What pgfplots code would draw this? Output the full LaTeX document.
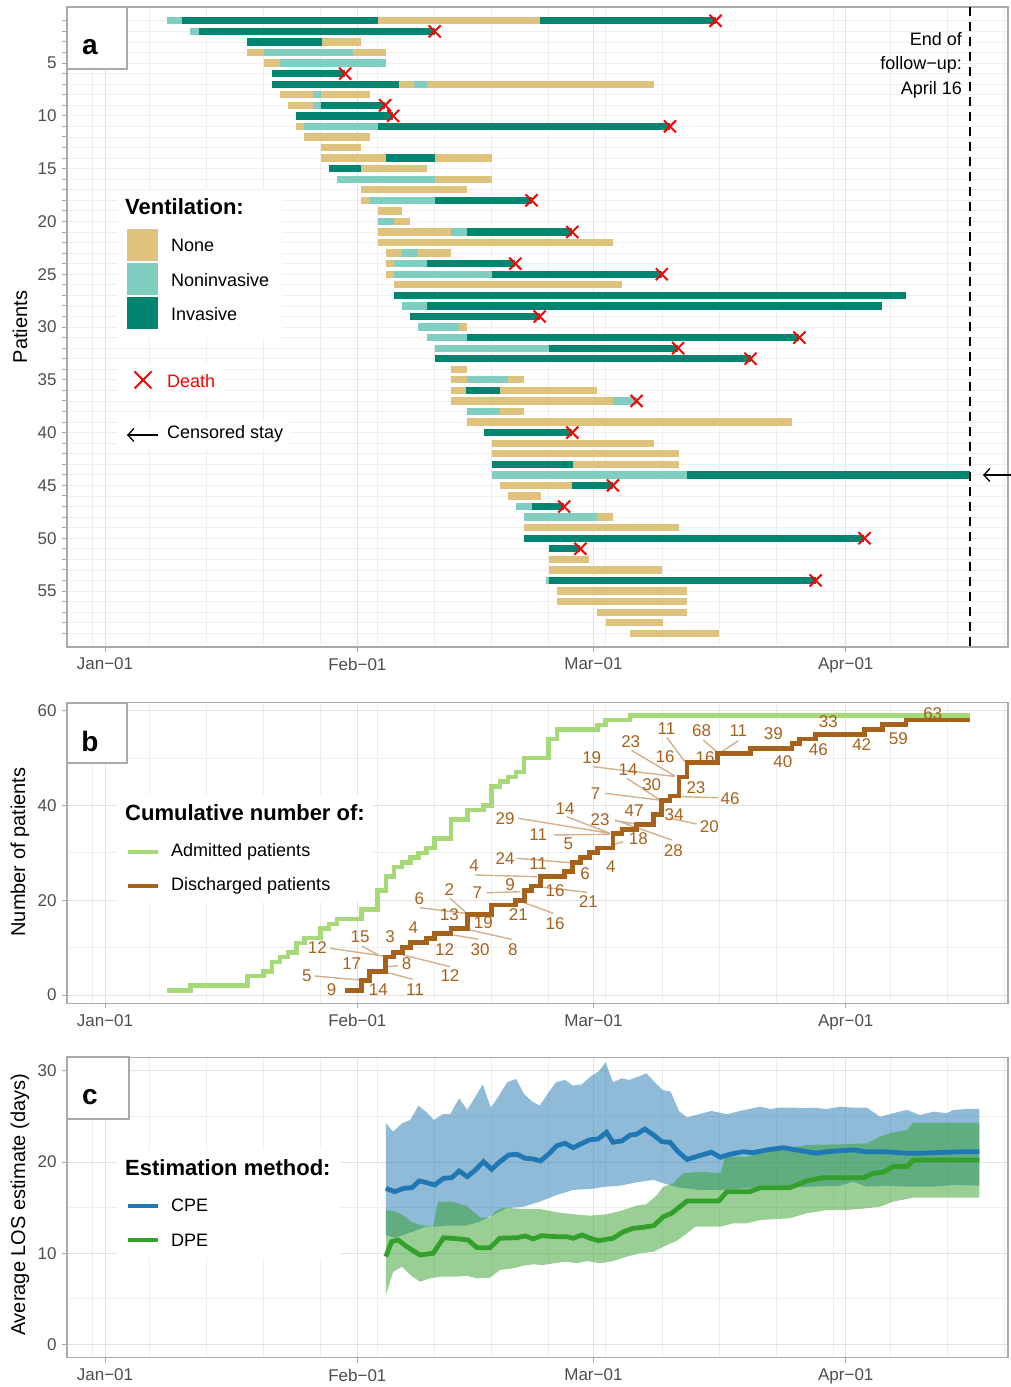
\documentclass[border=0pt]{standalone}
\usepackage{fontspec}
\setmainfont{Liberation Sans}
\setsansfont{Liberation Sans}
\usepackage{pgfplots}
\pgfplotsset{compat=1.18}
\usepackage{pgfplotstable}
\usetikzlibrary{arrows.meta}

\definecolor{tanbar}{HTML}{DFC27D}
\definecolor{ltteal}{HTML}{80CDC1}
\definecolor{dkteal}{HTML}{018571}
\definecolor{brownl}{HTML}{A6611A}
\definecolor{admg}{RGB}{166,217,120}
\definecolor{cpeb}{HTML}{1F78B4}
\definecolor{dpeg}{HTML}{33A02C}
\definecolor{tickc}{RGB}{77,77,77}
\definecolor{borderc}{RGB}{170,170,170}
\definecolor{gridc}{RGB}{226,226,226}
\definecolor{gridm}{RGB}{238,238,238}

\newcommand{\fsz}[1]{\fontsize{#1}{#1}\selectfont}

\pgfplotsset{
  panel/.style={
    scale only axis, width=941pt,
    xmin=-4.67, xmax=110.93,
    axis line style={borderc, line width=1.1pt},
    tick style={borderc, line width=1pt},
    major tick length=5pt, minor tick length=0pt,
    tick align=outside, tick pos=left,
    xtick={0,31,60,91},
    xticklabels={Jan−01,Feb−01,Mar−01,Apr−01},
    minor xtick={-1.5,5.5,12.5,19.5,26.5,33.5,40.5,47.5,54.5,61.5,68.5,75.5,82.5,89.5,96.5,103.5,110.5},
    grid=both,
    major grid style={gridc, line width=1pt},
    minor grid style={gridm, line width=0.8pt},
    ticklabel style={font=\fsz{17}, text=tickc},
    xticklabel style={yshift=-2.5pt},
    yticklabel style={xshift=-2pt},
    unbounded coords=jump,
  },
}

\pgfplotstableread{
x y lab
27.85 1.05 9
33.58 1.05 14
24.78 4.0 5
38.08 1.2 11
30.31 6.69 17
26.08 10.06 12
31.33 12.3 15
35.01 12.3 3
37.06 6.69 8
37.87 14.2 4
38.61 20.36 6
41.71 9.49 12
46.07 9.49 30
42.38 4.0 12
50.09 9.64 8
42.3 22.3 2
42.3 16.88 13
46.47 15.25 19
45.74 21.58 7
49.75 23.2 9
45.33 27.28 4
50.77 16.88 21
55.28 14.98 16
55.28 22.0 16
59.37 19.68 21
49.14 28.84 24
53.23 27.78 11
58.97 25.53 6
62.13 27.07 4
49.14 37.28 29
56.51 39.39 14
53.23 33.76 11
56.92 31.86 5
60.81 37.03 23
65.52 32.91 18
64.99 38.82 47
69.82 30.49 28
69.9 37.97 34
59.79 50.15 19
64.58 53.44 23
68.8 50.32 16
68.98 56.27 11
64.25 47.62 14
67.16 44.41 30
60.26 42.55 7
72.6 43.82 23
76.78 41.5 46
74.24 35.51 20
73.3 55.76 68
73.71 50.15 16
77.8 55.76 11
82.1 55.21 39
83.26 49.22 40
88.86 57.66 33
87.63 51.84 46
92.96 52.74 42
97.46 54.16 59
101.68 59.28 63
}\labtab

\begin{document}
\begin{tikzpicture}
\path[use as bounding box] (0pt,0pt) rectangle (1011pt,1387pt);

%================ Panel a ================
\begin{axis}[panel, at={(67pt,740pt)}, anchor=south west, height=640pt,
  y dir=reverse, ymin=-0.31, ymax=60.3,
  ytick={1,...,59},
  yticklabels={,,,,5,,,,,10,,,,,15,,,,,20,,,,,25,,,,,30,,,,,35,,,,,40,,,,,45,,,,,50,,,,,55,,,,},
  y grid style={gridm, line width=0.8pt},
]
% Tan: no ventilation
\addplot[tanbar, line width=7.3pt] table {
33.5 1
53.4 1
nan nan
26.6 3
31.5 3
nan nan
17.5 4
19.5 4
nan nan
30.5 4
34.5 4
nan nan
19.5 5
21.5 5
nan nan
36.1 7
38.0 7
nan nan
39.6 7
67.4 7
nan nan
21.5 8
25.5 8
nan nan
26.5 8
32.5 8
nan nan
22.5 9
25.5 9
nan nan
23.5 11
24.5 11
nan nan
24.5 12
32.5 12
nan nan
26.5 13
31.5 13
nan nan
26.5 14
34.5 14
nan nan
40.5 14
47.5 14
nan nan
31.5 15
39.5 15
nan nan
40.5 16
47.5 16
nan nan
31.5 17
44.5 17
nan nan
31.5 18
32.5 18
nan nan
33.5 19
36.5 19
nan nan
35.5 20
37.5 20
nan nan
33.5 21
42.5 21
nan nan
33.5 22
62.4 22
nan nan
34.5 23
36.5 23
nan nan
38.5 23
42.5 23
nan nan
34.5 24
35.5 24
nan nan
34.5 25
35.5 25
nan nan
35.5 26
63.5 26
nan nan
43.5 30
44.5 30
nan nan
42.5 34
44.5 34
nan nan
42.5 35
44.5 35
nan nan
49.5 35
51.5 35
nan nan
42.5 36
44.3 36
nan nan
48.5 36
60.5 36
nan nan
42.5 37
62.4 37
nan nan
48.5 38
51.5 38
nan nan
44.5 39
84.4 39
nan nan
47.5 41
67.4 41
nan nan
47.5 42
70.5 42
nan nan
57.5 43
70.5 43
nan nan
48.5 45
57.4 45
nan nan
49.5 46
53.5 46
nan nan
60.5 48
62.4 48
nan nan
51.5 49
70.5 49
nan nan
54.5 52
59.5 52
nan nan
54.5 53
68.4 53
nan nan
55.5 55
71.5 55
nan nan
55.5 56
71.5 56
nan nan
60.5 57
71.5 57
nan nan
61.5 58
68.5 58
nan nan
64.5 59
75.4 59
};
% Light teal: noninvasive
\addplot[ltteal, line width=7.3pt] table {
7.6 1
9.5 1
nan nan
10.5 2
11.5 2
nan nan
19.5 4
30.5 4
nan nan
21.5 5
34.5 5
nan nan
38.0 7
39.6 7
nan nan
25.5 8
26.5 8
nan nan
25.5 9
26.5 9
nan nan
24.5 11
33.5 11
nan nan
28.5 16
40.5 16
nan nan
32.5 18
40.5 18
nan nan
33.5 20
35.5 20
nan nan
42.5 21
44.5 21
nan nan
36.5 23
38.5 23
nan nan
35.5 24
39.5 24
nan nan
35.5 25
47.5 25
nan nan
36.5 28
39.5 28
nan nan
38.5 30
43.5 30
nan nan
39.5 31
44.5 31
nan nan
40.5 32
54.5 32
nan nan
44.5 35
49.5 35
nan nan
62.4 37
65.3 37
nan nan
44.5 38
48.5 38
nan nan
47.5 44
71.5 44
nan nan
50.5 47
52.5 47
nan nan
51.5 48
60.5 48
nan nan
54.2 54
54.5 54
};
% Dark teal: invasive
\addplot[dkteal, line width=7.3pt] table {
9.5 1
33.5 1
nan nan
53.4 1
75.0 1
nan nan
11.5 2
40.5 2
nan nan
17.5 3
26.6 3
nan nan
20.5 6
29.5 6
nan nan
20.5 7
36.1 7
nan nan
26.5 9
34.4 9
nan nan
23.5 10
35.4 10
nan nan
33.5 11
69.4 11
nan nan
34.5 14
40.5 14
nan nan
27.5 15
31.5 15
nan nan
40.5 18
52.4 18
nan nan
44.5 21
57.4 21
nan nan
39.5 24
50.4 24
nan nan
47.5 25
68.4 25
nan nan
35.5 27
98.4 27
nan nan
39.5 28
95.5 28
nan nan
37.5 29
53.4 29
nan nan
44.5 31
85.3 31
nan nan
54.5 32
70.4 32
nan nan
40.5 33
79.3 33
nan nan
44.3 36
48.5 36
nan nan
46.5 40
57.4 40
nan nan
47.5 43
57.5 43
nan nan
71.5 44
106.3 44
nan nan
57.4 45
62.4 45
nan nan
52.5 47
56.4 47
nan nan
51.5 50
93.3 50
nan nan
54.5 51
58.4 51
nan nan
54.5 54
87.3 54
};
% Deaths
\addplot[only marks, mark=x, mark size=8.5pt, red, line width=2pt] coordinates {
(75.0,1) (40.5,2) (29.5,6) (34.4,9) (35.4,10) (69.4,11) (52.4,18) (57.4,21)
(50.4,24) (68.4,25) (53.4,29) (85.3,31) (70.4,32) (79.3,33) (65.3,37) (57.4,40)
(62.4,45) (56.4,47) (93.3,50) (58.4,51) (87.3,54)};
% End of follow-up
\addplot[black, line width=2pt, dash pattern=on 9pt off 6pt] coordinates {(106.3,-0.31) (106.3,60.3)};
\end{axis}

%================ Panel b ================
\begin{axis}[panel, at={(67pt,383.7pt)}, anchor=south west, height=300.6pt,
  ymin=-1.75, ymax=61.67,
  ytick={0,20,40,60}, yticklabels={0,20,40,60},
  minor ytick={10,30,50},
]
% label segments
\addplot[brownl!50!white, line width=1.4pt] table {
25.8 4.0
31.3 3.16
nan nan
37.8 3.31
34.8 4.7
nan nan
27.64 9.85
34.19 8.23
nan nan
31.54 10.34
33.58 8.44
nan nan
36.03 6.18
34.8 5.97
nan nan
38.7 18.42
44.23 17.24
nan nan
45.86 11.75
42.79 12.66
nan nan
42.38 5.97
36.65 8.44
nan nan
49.96 11.75
44.84 13.71
nan nan
42.38 20.4
44.23 17.57
nan nan
46.89 21.58
50.98 21.79
nan nan
45.45 25.32
53.04 24.96
nan nan
50.58 20.04
55.07 17.24
nan nan
53.85 22.72
59.18 21.67
nan nan
50.58 28.84
57.13 27.91
nan nan
50.77 37.28
62.04 34.11
nan nan
56.72 37.62
62.04 34.11
nan nan
55.07 33.76
62.04 33.9
nan nan
62.65 36.77
65.32 36.08
nan nan
62.65 36.92
69.62 32.7
nan nan
63.67 32.34
62.65 31.86
nan nan
59.99 48.16
70.02 46.1
nan nan
64.7 51.58
70.02 46.2
nan nan
69.0 54.37
71.25 49.22
nan nan
64.09 45.72
68.06 41.29
nan nan
61.43 42.55
68.06 41.14
nan nan
70.85 41.84
75.34 41.62
nan nan
69.41 37.28
72.69 36.08
nan nan
73.5 53.8
75.15 51.33
nan nan
77.8 53.65
75.76 51.33
};
% admitted
\addplot[admg, line width=4.5pt, const plot] coordinates {
(7.6,1) (10.5,2) (17.5,4) (19.5,5) (20.5,7) (21.5,8) (22.5,9) (23.5,11) (24.5,12)
(26.5,14) (27.5,15) (28.5,16) (31.5,18) (33.5,22) (34.5,25) (35.5,27) (36.5,28)
(37.5,29) (38.5,30) (39.5,31) (40.5,33) (42.5,37) (44.5,39) (46.5,40) (47.5,44)
(48.5,45) (49.5,46) (50.5,47) (51.5,50) (54.5,54) (55.5,56) (60.5,57) (61.5,58)
(64.5,59) (106.3,59)};
% discharged
\addplot[brownl, line width=4.8pt, const plot] coordinates {
(29.5,1) (31.5,3) (32.5,5) (34.5,8) (35.4,9) (36.5,10) (37.5,11) (39.5,12) (40.5,13)
(42.5,14) (44.5,17) (47.5,19) (50.4,20) (51.5,22) (52.4,23) (53.5,25) (56.4,26)
(57.4,28) (58.4,29) (59.5,30) (60.5,31) (62.4,34) (63.5,35) (65.3,36) (67.4,38)
(68.4,41) (69.4,42) (70.5,46) (71.5,49) (75.2,51) (79.3,52) (84.4,53) (85.3,54)
(87.3,55) (93.3,56) (95.5,57) (98.4,58) (106.3,58)};
% LOS labels
\addplot[draw=none, mark=none, nodes near coords, point meta=explicit symbolic,
  every node near coord/.append style={anchor=center, font=\fsz{17}, text=brownl, inner sep=0pt}]
  table[x=x, y=y, meta=lab] {\labtab};
\end{axis}

%================ Panel c ================
\begin{axis}[panel, at={(67pt,29.3pt)}, anchor=south west, height=300.4pt,
  ymin=-1.47, ymax=31.5,
  ytick={0,10,20,30}, yticklabels={0,10,20,30},
  minor ytick={5,15,25},
]
% CPE band
\addplot[fill=cpeb, fill opacity=0.5, draw=none] coordinates {
(34.5,24.26) (35.4,23.34) (36.5,24.26) (37.5,24.62) (38.5,26.19) (39.5,25.47) (40.4,24.62)
(41.5,25.25) (42.4,25.25) (43.5,27.0) (44.5,25.72) (45.5,27.18) (46.4,28.54) (47.4,25.97)
(48.5,27.44) (49.4,28.76) (50.5,29.12) (51.5,27.44) (52.5,26.63) (53.4,26.19) (54.5,27.66)
(55.4,28.76) (56.5,29.01) (57.5,28.39) (58.6,28.54) (59.6,29.37) (60.6,29.92) (61.5,30.95)
(62.4,28.76) (63.5,29.2) (64.4,29.01) (65.5,29.37) (66.5,29.75) (67.4,28.9) (68.5,27.91)
(69.5,27.73) (70.5,25.6) (71.5,24.9) (72.9,25.25) (74.5,25.61) (76.4,25.25) (78.0,25.61)
(80.5,26.08) (81.7,25.83) (82.9,25.97) (84.6,25.97) (86.2,25.91) (87.0,25.97) (88.7,25.83)
(90.3,26.08) (91.9,25.97) (93.6,25.97) (95.2,24.98) (96.8,25.36) (98.5,25.72) (100.1,25.17)
(101.8,25.53) (103.4,25.36) (104.2,25.72) (105.9,25.83) (107.4,25.83)
(107.4,17.41) (104.2,17.49) (101.8,17.3) (98.5,17.3) (96.0,17.41) (93.6,17.3) (91.9,17.85)
(90.3,17.41) (87.0,17.3) (82.9,17.19) (78.8,17.12) (75.6,16.94) (73.1,16.94) (70.6,17.19)
(68.6,17.67) (67.4,18.04) (65.3,17.78) (63.3,17.41) (61.6,17.3) (59.6,17.05) (57.5,16.94)
(55.5,16.39) (53.4,15.65) (51.4,15.1) (49.3,14.93) (47.7,14.19) (46.0,13.46) (44.3,13.02)
(41.9,13.02) (40.5,12.91) (39.4,12.91) (37.8,12.36) (36.6,12.0) (35.6,11.7) (34.5,12.0)};
% DPE band
\addplot[fill=dpeg, fill opacity=0.5, draw=none] coordinates {
(34.5,14.74) (35.6,14.56) (36.6,14.19) (37.6,13.46) (38.7,13.1) (40.3,12.91) (40.9,15.65)
(42.6,15.65) (44.4,15.21) (46.1,13.9) (47.3,13.9) (47.9,14.56) (48.9,15.0) (51.4,14.85)
(53.4,14.85) (55.5,14.49) (57.5,14.27) (59.6,14.12) (61.6,14.27) (63.3,14.63) (65.3,15.21)
(66.5,15.37) (67.8,16.39) (68.6,17.3) (69.8,17.67) (71.0,18.77) (73.1,18.95) (75.6,18.77)
(76.2,20.59) (78.8,20.59) (80.5,20.97) (86.2,21.88) (90.3,21.95) (93.6,22.06) (95.2,22.79)
(96.8,23.27) (98.5,23.52) (99.3,24.32) (107.4,24.32)
(107.4,16.09) (99.3,16.09) (96.8,15.65) (95.2,15.1) (93.6,14.93) (91.1,14.74) (88.7,14.74)
(86.2,14.38) (84.1,13.83) (80.5,13.64) (78.8,13.28) (77.2,13.28) (75.6,12.91) (72.5,12.91)
(71.5,12.18) (70.2,11.34) (68.6,10.71) (67.4,10.16) (65.7,9.99) (64.1,9.62) (62.4,9.14)
(60.8,8.89) (59.2,9.14) (57.9,8.89) (56.7,9.07) (55.1,8.89) (53.8,8.7) (52.6,8.78)
(51.4,8.63) (50.2,8.34) (48.5,8.16) (47.3,7.31) (45.7,7.24) (44.4,7.53) (43.2,7.42)
(41.2,7.42) (39.9,7.24) (38.7,6.87) (37.5,7.61) (36.5,8.52) (35.4,7.97) (34.5,5.41)};
% CPE line
\addplot[cpeb, line width=4.8pt] coordinates {
(34.5,17.12) (35.6,16.75) (36.7,17.12) (37.7,17.19) (38.6,17.93) (39.5,17.74) (40.5,17.49)
(41.6,18.22) (42.6,18.29) (43.5,19.02) (44.5,18.4) (45.5,19.13) (46.5,20.04) (47.5,19.21)
(48.5,20.04) (49.6,20.78) (50.6,20.86) (51.6,20.42) (52.6,20.34) (53.5,20.12) (54.6,20.97)
(55.5,21.8) (56.5,22.06) (57.5,21.58) (58.6,22.06) (59.5,22.43) (60.6,22.54) (61.6,23.27)
(62.4,22.17) (63.5,22.32) (64.5,22.97) (65.3,23.05) (66.3,23.63) (67.4,22.97) (68.4,22.24)
(69.4,22.17) (70.4,21.14) (71.5,20.29) (72.9,20.67) (74.5,21.08) (75.6,20.53) (76.8,20.86)
(78.4,21.14) (79.6,21.03) (81.3,21.33) (83.3,21.58) (85.0,21.33) (86.2,21.14) (87.4,20.97)
(88.7,21.14) (90.3,21.25) (92.1,21.33) (93.4,21.14) (95.2,21.14) (96.8,21.08) (98.5,20.97)
(100.1,20.97) (101.8,21.03) (103.4,21.08) (105.4,21.14) (107.4,21.14)};
% DPE line
\addplot[dpeg, line width=4.8pt] coordinates {
(34.5,9.62) (35.2,11.26) (36.0,11.45) (37.1,10.71) (38.7,9.8) (40.3,9.99) (41.6,11.7)
(43.6,11.56) (44.6,11.45) (45.7,10.6) (47.3,10.6) (48.5,11.64) (50.6,11.7) (51.6,11.89)
(52.6,11.56) (53.6,11.92) (55.5,11.81) (56.7,11.81) (57.5,11.64) (58.6,12.0) (59.6,11.64)
(60.6,11.37) (62.4,11.64) (63.7,12.36) (64.9,12.73) (66.1,12.84) (67.4,13.02) (68.6,14.01)
(69.6,14.38) (71.5,15.73) (72.9,15.73) (75.4,15.73) (76.4,16.75) (79.2,16.75) (80.5,17.19)
(84.1,17.19) (86.2,17.93) (88.2,18.29) (93.2,18.29) (94.4,18.77) (95.6,18.88) (96.8,19.5)
(98.5,19.5) (99.3,20.23) (107.4,20.23)};
\end{axis}

%================ Overlay (pixel coordinates from top) ================
\begin{scope}[shift={(0pt,1387pt)}, x=1pt, y=-1pt]
% panel tags
\draw[borderc, line width=1.1pt, fill=white] (67,7) rectangle (127,69);
\node[font=\fsz{28}\bfseries, inner sep=0] at (90,47) {a};
\draw[borderc, line width=1.1pt, fill=white] (67,703) rectangle (127,763);
\node[font=\fsz{28}\bfseries, inner sep=0] at (90,741) {b};
\draw[borderc, line width=1.1pt, fill=white] (67,1057) rectangle (129,1119);
\node[font=\fsz{28}\bfseries, inner sep=0] at (90,1097) {c};

% axis titles
\node[rotate=90, font=\fsz{20}] at (20,327) {Patients};
\node[rotate=90, font=\fsz{20}] at (20,852) {Number of patients};
\node[rotate=90, font=\fsz{20}] at (20,1205) {Average LOS estimate (days)};

% end of follow-up
\node[anchor=base east, font=\fsz{18}, inner sep=0] at (962,45.5) {End of};
\node[anchor=base east, font=\fsz{18}, inner sep=0] at (962,70) {follow−up:};
\node[anchor=base east, font=\fsz{18}, inner sep=0] at (962,94.5) {April 16};
\draw[line width=1.3pt, -{Straight Barb[length=6pt,width=13pt]}] (1011,475) -- (983,475);

% panel a legend
\fill[white] (117,190) rectangle (282,338);
\node[anchor=west, font=\fsz{22}\bfseries, inner sep=0] at (125,207) {Ventilation:};
\fill[tanbar] (127,229) rectangle (158,261);
\fill[ltteal] (127,263) rectangle (158,295);
\fill[dkteal] (127,297) rectangle (158,329);
\node[anchor=west, font=\fsz{18}, inner sep=0] at (171,245) {None};
\node[anchor=west, font=\fsz{18}, inner sep=0] at (171,280) {Noninvasive};
\node[anchor=west, font=\fsz{18}, inner sep=0] at (171,314) {Invasive};
\fill[white] (117,364) rectangle (225,397);
\draw[red, line width=2pt] (134.5,371.5) -- (151.5,388.5) (134.5,388.5) -- (151.5,371.5);
\node[anchor=west, font=\fsz{18}, text=red, inner sep=0] at (167,381) {Death};
\fill[white] (117,420) rectangle (290,449);
\draw[line width=1.3pt, -{Straight Barb[length=6pt,width=13pt]}] (158,435) -- (127,435);
\node[anchor=west, font=\fsz{18}, inner sep=0] at (167,434) {Censored stay};

% panel b legend
\fill[white] (117,795) rectangle (372,902);
\node[anchor=west, font=\fsz{22}\bfseries, inner sep=0] at (125,813) {Cumulative number of:};
\draw[admg, line width=4.5pt] (128,852) -- (158,852);
\node[anchor=west, font=\fsz{18}, inner sep=0] at (171,852) {Admitted patients};
\draw[brownl, line width=4.5pt] (128,886) -- (158,886);
\node[anchor=west, font=\fsz{18}, inner sep=0] at (171,886) {Discharged patients};

% panel c legend
\fill[white] (117,1150) rectangle (340,1258);
\node[anchor=west, font=\fsz{22}\bfseries, inner sep=0] at (125,1168) {Estimation method:};
\draw[cpeb, line width=4.5pt] (128,1206) -- (158,1206);
\node[anchor=west, font=\fsz{18}, inner sep=0] at (171,1205) {CPE};
\draw[dpeg, line width=4.5pt] (128,1240) -- (158,1240);
\node[anchor=west, font=\fsz{18}, inner sep=0] at (171,1240) {DPE};
\end{scope}
\end{tikzpicture}
\end{document}
